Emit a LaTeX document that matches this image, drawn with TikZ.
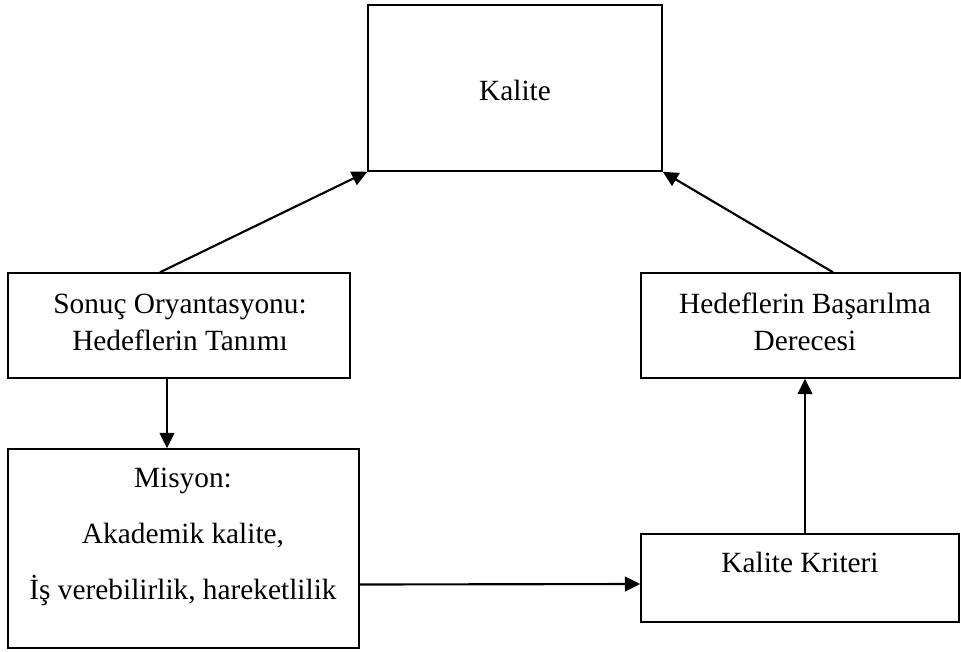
\documentclass[tikz,border=0pt]{standalone}
\usepackage{fontspec}
\setmainfont{Liberation Serif}
\usetikzlibrary{calc,arrows.meta}
\begin{document}
\begin{tikzpicture}[x=0.75pt,y=-0.75pt,
  box/.style={draw,line width=1.1pt,rectangle,inner sep=0pt},
  lbl/.style={align=center,inner sep=0pt,font=\fontsize{22}{27.75}\selectfont},
  conn/.style={line width=1.6pt,-{Triangle[length=11.5pt,width=11pt]}}]
\useasboundingbox (0,0) rectangle (961,651);
% boxes
\node[box,minimum width=294*0.75pt,minimum height=166*0.75pt] (kalite) at (515,88) {};
\node[box,minimum width=342*0.75pt,minimum height=105*0.75pt] (sonuc) at (179,325.5) {};
\node[box,minimum width=319*0.75pt,minimum height=105*0.75pt] (hedef) at (800.5,325.5) {};
\node[box,minimum width=351*0.75pt,minimum height=199*0.75pt] (misyon) at (183.5,548.5) {};
\node[box,minimum width=318*0.75pt,minimum height=88*0.75pt] (kriter) at (800,578) {};
% texts
\node[lbl] (tkalite) at (515,90) {Kalite};
\node[lbl] (tsonuc) at (180,322) {Sonuç Oryantasyonu:\\Hedeflerin Tanımı};
\node[lbl] (thedef) at (805,322) {Hedeflerin Başarılma\\Derecesi};
\node[lbl,font=\fontsize{22}{42}\selectfont] (tmisyon) at (183,537) {Misyon:\\Akademik kalite,\\İş verebilirlik, hareketlilik};
\node[lbl] (tkriter) at (800,562) {Kalite Kriteri};
% connectors
\draw[conn] ($(sonuc.north)+(-19,0)$) -- (kalite.south west);
\draw[conn] ($(hedef.north)+(32.5,0)$) -- (kalite.south east);
\draw[conn] ($(sonuc.south)+(-12,0)$) -- ($(misyon.north)+(-16.5,0)$);
\draw[conn] ($(misyon.east)+(0,36)$) -- ($(kriter.west)+(0,6)$);
\draw[conn] ($(kriter.north)+(5,0)$) -- ($(hedef.south)+(4.5,0)$);
\end{tikzpicture}
\end{document}
